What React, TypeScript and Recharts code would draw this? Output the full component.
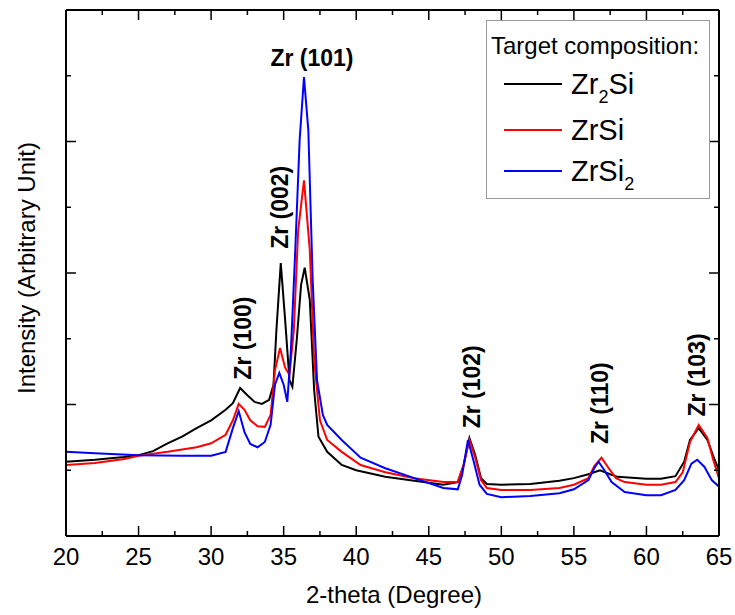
import React from 'react';
import { LineChart, Line, XAxis, YAxis, ReferenceDot } from 'recharts';

// ---- data (intensity in arbitrary units; one unit = one y-tick) ----
const x_Zr2Si = [20, 22, 24, 25, 26, 27, 28, 29, 30, 31, 31.5, 32.0, 32.5, 33.0, 33.5, 34.0, 34.3, 34.5, 34.8, 35.1, 35.4, 35.6, 35.9, 36.2, 36.45, 36.8, 37.1, 37.4, 38, 39, 40, 42, 44, 45, 46, 47, 47.4, 47.8, 48.2, 48.6, 49, 50, 52, 54, 55, 56, 56.8, 57.5, 58, 60, 61, 62, 62.6, 63.0, 63.6, 64.2, 64.7, 65];
const y_Zr2Si = [1.13, 1.16, 1.2, 1.23, 1.29, 1.41, 1.51, 1.64, 1.76, 1.92, 2.02, 2.25, 2.14, 2.04, 2.01, 2.07, 2.3, 3.13, 4.15, 3.29, 2.37, 2.27, 2.98, 3.82, 4.08, 3.59, 2.22, 1.51, 1.28, 1.08, 1.0, 0.9, 0.84, 0.81, 0.78, 0.82, 1.08, 1.49, 1.23, 0.88, 0.79, 0.78, 0.79, 0.84, 0.88, 0.94, 1.0, 0.94, 0.9, 0.87, 0.87, 0.91, 1.13, 1.46, 1.64, 1.46, 1.16, 1.0];

const x_ZrSi = [20, 22, 24, 25, 27, 29, 30, 31, 31.5, 31.9, 32.3, 32.7, 33.2, 33.7, 34.1, 34.4, 34.75, 35.1, 35.4, 35.7, 36.0, 36.4, 36.8, 37.1, 37.5, 38, 39, 40.3, 42, 44, 46, 47, 47.4, 47.8, 48.2, 48.6, 49, 50, 52, 54, 55, 56, 56.4, 56.9, 57.4, 57.9, 58.5, 60, 61, 62, 62.5, 63.0, 63.6, 64.2, 64.6, 65];
const y_ZrSi = [1.08, 1.11, 1.17, 1.22, 1.28, 1.35, 1.41, 1.54, 1.76, 2.01, 1.92, 1.76, 1.67, 1.66, 1.84, 2.52, 2.86, 2.56, 2.45, 3.13, 4.65, 5.41, 4.35, 2.68, 1.76, 1.46, 1.28, 1.08, 0.97, 0.88, 0.82, 0.82, 1.08, 1.46, 1.19, 0.85, 0.73, 0.7, 0.7, 0.73, 0.78, 0.88, 1.06, 1.19, 1.03, 0.88, 0.82, 0.78, 0.78, 0.82, 0.97, 1.43, 1.69, 1.49, 1.16, 0.88];

const x_ZrSi2 = [20, 22, 25, 28, 30, 31, 31.5, 31.9, 32.3, 32.7, 33.2, 33.7, 34.1, 34.4, 34.7, 35.0, 35.25, 35.5, 35.8, 36.1, 36.4, 36.7, 37.0, 37.3, 37.7, 38, 39, 40.3, 42, 44, 46, 47, 47.3, 47.7, 48.1, 48.5, 49, 50, 52, 54, 55, 56, 56.4, 56.7, 57.1, 57.6, 58.5, 60, 61, 62, 62.6, 63.1, 63.5, 64, 64.5, 65];
const y_ZrSi2 = [1.28, 1.26, 1.23, 1.22, 1.22, 1.28, 1.64, 1.9, 1.58, 1.4, 1.35, 1.43, 1.69, 2.3, 2.48, 2.3, 2.04, 2.83, 4.35, 6.02, 6.98, 6.17, 3.89, 2.37, 1.84, 1.69, 1.46, 1.19, 1.03, 0.88, 0.73, 0.71, 0.93, 1.46, 1.13, 0.78, 0.64, 0.59, 0.61, 0.65, 0.71, 0.85, 1.03, 1.13, 1.0, 0.82, 0.67, 0.62, 0.62, 0.7, 0.85, 1.1, 1.16, 1.05, 0.85, 0.75];

const xMajorTicks = [20, 25, 30, 35, 40, 45, 50, 55, 60, 65];
const xMinorTicks = [22.5, 27.5, 32.5, 37.5, 42.5, 47.5, 52.5, 57.5, 62.5];
const yMajorTicks = [2, 4, 6];
const yMinorTicks = [1, 3, 5, 7];

const peakNames = ['Zr (100)', 'Zr (002)', 'Zr (101)', 'Zr (102)', 'Zr (110)', 'Zr (103)'];
const peakX = [32.2, 34.75, 36.95, 47.98, 56.8, 63.49];
const peakY = [3.01, 5.0, 7.27, 2.27, 2.02, 2.45];
const peakRotated = [true, true, false, true, true, true];

const seriesNames = ['Zr2Si', 'ZrSi', 'ZrSi2'];
const seriesColors = ['#000000', '#ff0000', '#0000ff'];

const zip = (xs: number[], ys: number[]) => xs.map((x, i) => ({ x, y: ys[i] }));
const seriesData = [zip(x_Zr2Si, y_Zr2Si), zip(x_ZrSi, y_ZrSi), zip(x_ZrSi2, y_ZrSi2)];

const FONT = '"Liberation Sans", Arial, sans-serif';
const xTicks = [...xMajorTicks, ...xMinorTicks].sort((a, b) => a - b);
const yTicks = [...yMajorTicks, ...yMinorTicks].sort((a, b) => a - b);

const tickLen = (major: boolean) => (major ? 10 : 5);

const BottomTick = (props: any) => {
  const { x, y, payload } = props;
  const v = payload.value;
  const major = xMajorTicks.includes(v);
  return (
    <g>
      <line x1={x} x2={x} y1={y} y2={y - tickLen(major)} stroke="#000" strokeWidth={1.5} />
      {major && (
        <text x={x} y={y + 29} textAnchor="middle" fontSize={24} fontFamily={FONT} fill="#000">
          {v}
        </text>
      )}
    </g>
  );
};

const TopTick = (props: any) => {
  const { x, y, payload } = props;
  const major = xMajorTicks.includes(payload.value);
  return <line x1={x} x2={x} y1={y} y2={y + tickLen(major)} stroke="#000" strokeWidth={1.5} />;
};

const LeftTick = (props: any) => {
  const { x, y, payload } = props;
  const major = yMajorTicks.includes(payload.value);
  return <line x1={x} x2={x + tickLen(major)} y1={y} y2={y} stroke="#000" strokeWidth={1.5} />;
};

const RightTick = (props: any) => {
  const { x, y, payload } = props;
  const major = yMajorTicks.includes(payload.value);
  return <line x1={x} x2={x - tickLen(major)} y1={y} y2={y} stroke="#000" strokeWidth={1.5} />;
};

const makePeakLabel = (text: string, rotated: boolean) => (props: any) => {
  const vb = props.viewBox || {};
  const cx = (vb.x ?? 0) + (vb.width ?? 0) / 2;
  const cy = (vb.y ?? 0) + (vb.height ?? 0) / 2;
  return (
    <text
      x={cx}
      y={cy}
      textAnchor="middle"
      dominantBaseline="central"
      fontSize={23}
      fontWeight="bold"
      fontFamily={FONT}
      fill="#000"
      transform={rotated ? `rotate(-90, ${cx}, ${cy})` : undefined}
    >
      {text}
    </text>
  );
};

const axisLineStyle = { stroke: '#000', strokeWidth: 2 };

const LegendBox = () => {
  const rows = [
    { y: 83, label: <>Zr<span style={{ fontSize: 18, position: 'relative', top: 9 }}>2</span>Si</> },
    { y: 129, label: <>ZrSi</> },
    { y: 170, label: <>ZrSi<span style={{ fontSize: 18, position: 'relative', top: 9 }}>2</span></> },
  ];
  return (
    <div
      style={{
        position: 'absolute',
        left: 486,
        top: 20,
        width: 222,
        height: 177,
        border: '1.5px solid #999',
        background: '#fff',
        fontFamily: FONT,
        color: '#000',
      }}
    >
      <div style={{ position: 'absolute', left: 4, top: 25 - 14, fontSize: 24, lineHeight: '28px', whiteSpace: 'nowrap' }}>
        Target composition:
      </div>
      {rows.map((r, i) => (
        <React.Fragment key={seriesNames[i]}>
          <div
            style={{
              position: 'absolute',
              left: 17,
              top: r.y - 20 - 1,
              width: 58,
              height: 2,
              background: seriesColors[i],
            }}
          />
          <div
            style={{
              position: 'absolute',
              left: 84,
              top: r.y - 20 - 17,
              fontSize: 29,
              lineHeight: '34px',
              whiteSpace: 'nowrap',
            }}
          >
            {r.label}
          </div>
        </React.Fragment>
      ))}
    </div>
  );
};

export default function App() {
  return (
    <div style={{ position: 'absolute', left: 0, top: 0, width: 735, height: 615, background: '#fff' }}>
      <LineChart
        width={735}
        height={615}
        margin={{ top: 9, right: 15, bottom: 78, left: 65 }}
      >
        <XAxis
          type="number"
          dataKey="x"
          domain={[20, 65]}
          ticks={xTicks}
          interval={0}
          allowDataOverflow
          height={1}
          tickSize={0}
          tickMargin={0}
          axisLine={axisLineStyle}
          tickLine={false}
          tick={<BottomTick />}
        />
        <XAxis
          xAxisId="top"
          orientation="top"
          type="number"
          dataKey="x"
          domain={[20, 65]}
          ticks={xTicks}
          interval={0}
          allowDataOverflow
          height={1}
          tickSize={0}
          tickMargin={0}
          axisLine={axisLineStyle}
          tickLine={false}
          tick={<TopTick />}
        />
        <YAxis
          type="number"
          domain={[0, 8]}
          ticks={yTicks}
          interval={0}
          allowDataOverflow
          width={1}
          tickSize={0}
          tickMargin={0}
          axisLine={axisLineStyle}
          tickLine={false}
          tick={<LeftTick />}
        />
        <YAxis
          yAxisId="right"
          orientation="right"
          type="number"
          domain={[0, 8]}
          ticks={yTicks}
          interval={0}
          allowDataOverflow
          width={1}
          tickSize={0}
          tickMargin={0}
          axisLine={axisLineStyle}
          tickLine={false}
          tick={<RightTick />}
        />
        {seriesData.map((d, i) => (
          <Line
            key={seriesNames[i]}
            data={d}
            dataKey="y"
            name={seriesNames[i]}
            type="linear"
            stroke={seriesColors[i]}
            strokeWidth={2}
            dot={false}
            activeDot={false}
            isAnimationActive={false}
          />
        ))}
        {peakNames.map((name, i) => (
          <ReferenceDot
            key={name}
            x={peakX[i]}
            y={peakY[i]}
            r={1}
            fill="none"
            stroke="none"
            ifOverflow="visible"
            label={makePeakLabel(name, peakRotated[i])}
          />
        ))}
      </LineChart>
      <svg
        width={735}
        height={615}
        style={{ position: 'absolute', left: 0, top: 0, pointerEvents: 'none' }}
      >
        <text x={394} y={603} textAnchor="middle" fontSize={24} fontFamily={FONT} fill="#000">
          2-theta (Degree)
        </text>
        <text
          x={0}
          y={0}
          textAnchor="middle"
          fontSize={24}
          fontFamily={FONT}
          fill="#000"
          transform="translate(35, 268) rotate(-90)"
        >
          Intensity (Arbitrary Unit)
        </text>
      </svg>
      <LegendBox />
    </div>
  );
}
